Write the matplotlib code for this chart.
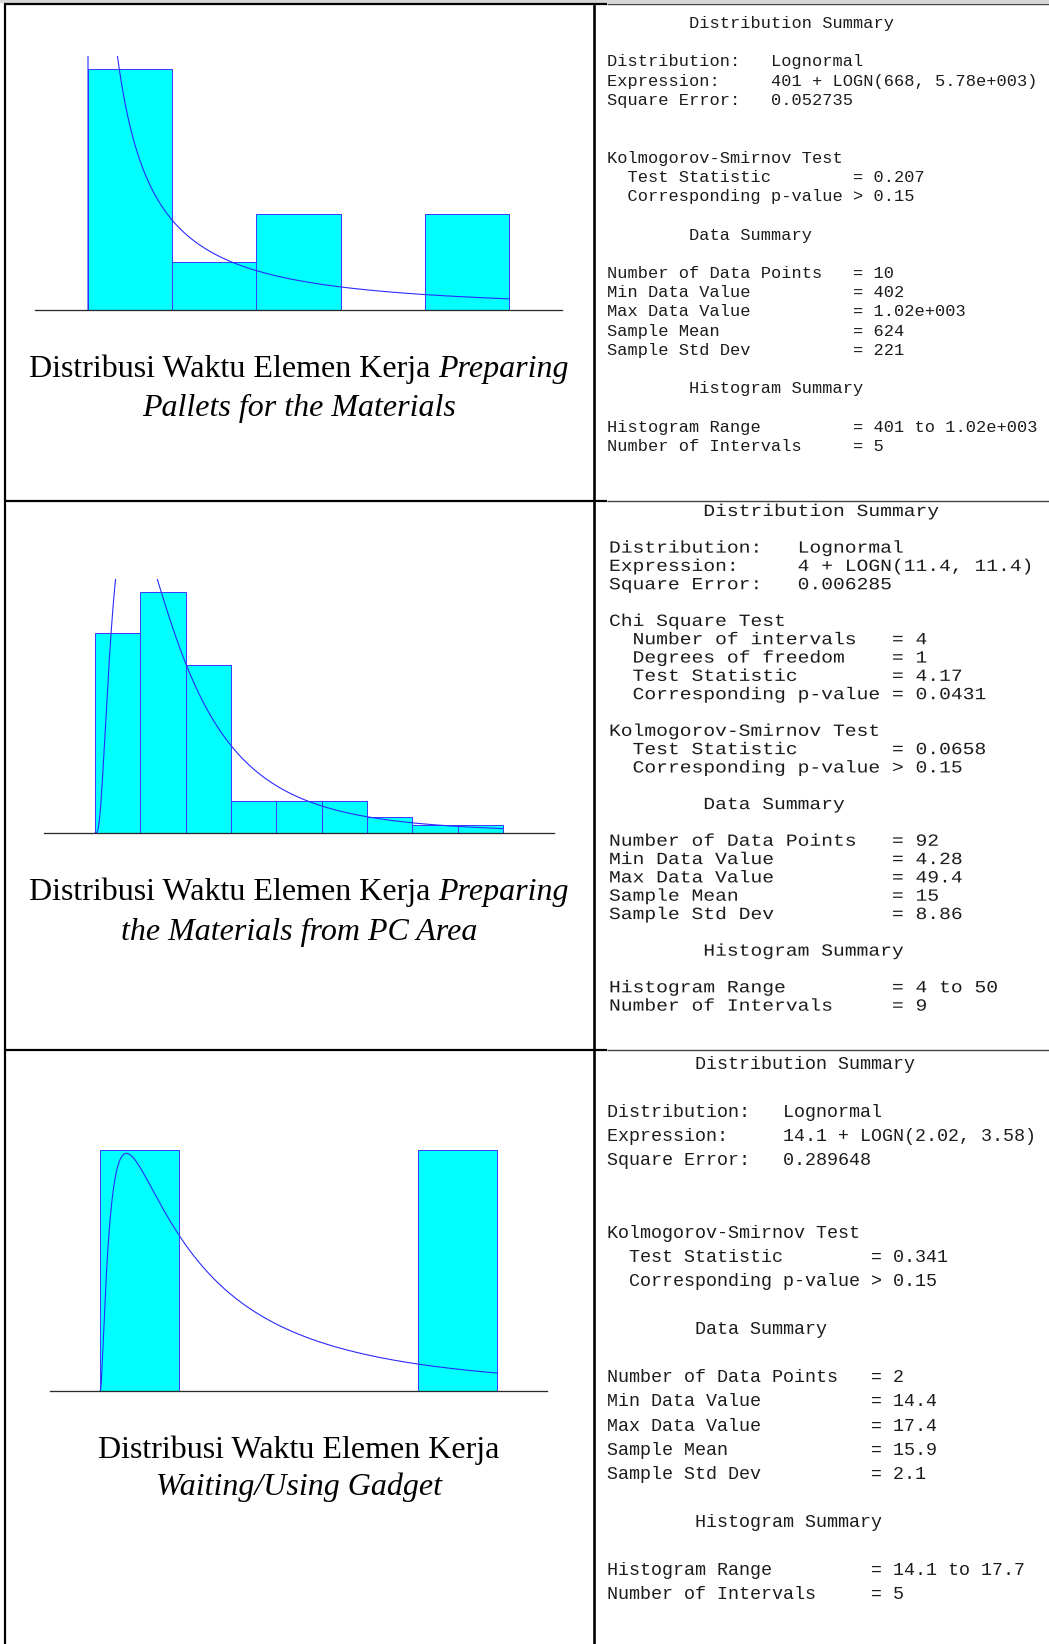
import numpy as np
import matplotlib
matplotlib.use("Agg")
import matplotlib.pyplot as plt
from matplotlib.patheffects import AbstractPathEffect
from matplotlib.transforms import Affine2D

W, H, DPI = 1049, 1644, 100
PX = 72.0 / DPI  # points per pixel

SERIF = ["Liberation Serif", "DejaVu Serif"]
MONO = ["Liberation Mono", "DejaVu Sans Mono"]

# ---------------------------------------------------------------- data
# interval counts, histogram range, fitted lognormal (offset, mean, std dev)
pallets_counts = [5, 1, 2, 0, 2]
pallets_range = (401.0, 1020.0)
pallets_fit = (401.0, 668.0, 5780.0)

pc_area_counts = [25, 30, 21, 4, 4, 4, 2, 1, 1]
pc_area_range = (4.0, 50.0)
pc_area_fit = (4.0, 11.4, 11.4)

gadget_counts = [1, 0, 0, 0, 1]
gadget_range = (14.1, 17.7)
gadget_fit = (14.1, 2.02, 3.58)

pallets_caption = [[("Distribusi Waktu Elemen Kerja", "normal"), ("Preparing", "italic")],
                   [("Pallets for the Materials", "italic")]]
pc_area_caption = [[("Distribusi Waktu Elemen Kerja", "normal"), ("Preparing", "italic")],
                   [("the Materials from PC Area", "italic")]]
gadget_caption = [[("Distribusi Waktu Elemen Kerja", "normal")],
                  [("Waiting/Using Gadget", "italic")]]

pallets_summary = [
    "        Distribution Summary",
    "",
    "Distribution:   Lognormal",
    "Expression:     401 + LOGN(668, 5.78e+003)",
    "Square Error:   0.052735",
    "",
    "",
    "Kolmogorov-Smirnov Test",
    "  Test Statistic        = 0.207",
    "  Corresponding p-value > 0.15",
    "",
    "        Data Summary",
    "",
    "Number of Data Points   = 10",
    "Min Data Value          = 402",
    "Max Data Value          = 1.02e+003",
    "Sample Mean             = 624",
    "Sample Std Dev          = 221",
    "",
    "        Histogram Summary",
    "",
    "Histogram Range         = 401 to 1.02e+003",
    "Number of Intervals     = 5",
]

pc_area_summary = [
    "        Distribution Summary",
    "",
    "Distribution:   Lognormal",
    "Expression:     4 + LOGN(11.4, 11.4)",
    "Square Error:   0.006285",
    "",
    "Chi Square Test",
    "  Number of intervals   = 4",
    "  Degrees of freedom    = 1",
    "  Test Statistic        = 4.17",
    "  Corresponding p-value = 0.0431",
    "",
    "Kolmogorov-Smirnov Test",
    "  Test Statistic        = 0.0658",
    "  Corresponding p-value > 0.15",
    "",
    "        Data Summary",
    "",
    "Number of Data Points   = 92",
    "Min Data Value          = 4.28",
    "Max Data Value          = 49.4",
    "Sample Mean             = 15",
    "Sample Std Dev          = 8.86",
    "",
    "        Histogram Summary",
    "",
    "Histogram Range         = 4 to 50",
    "Number of Intervals     = 9",
]

gadget_summary = [
    "        Distribution Summary",
    "",
    "Distribution:   Lognormal",
    "Expression:     14.1 + LOGN(2.02, 3.58)",
    "Square Error:   0.289648",
    "",
    "",
    "Kolmogorov-Smirnov Test",
    "  Test Statistic        = 0.341",
    "  Corresponding p-value > 0.15",
    "",
    "        Data Summary",
    "",
    "Number of Data Points   = 2",
    "Min Data Value          = 14.4",
    "Max Data Value          = 17.4",
    "Sample Mean             = 15.9",
    "Sample Std Dev          = 2.1",
    "",
    "        Histogram Summary",
    "",
    "Histogram Range         = 14.1 to 17.7",
    "Number of Intervals     = 5",
]

# ---------------------------------------------------------------- layout (pixels)
layouts = [
    dict(x0=88, x1=509, base=310, top=56, cap=(377, 416),
         tx=607, ty=28, step=19.23, fs=12.24, sx=1.0),
    dict(x0=95, x1=503, base=833, top=579, cap=(900, 940),
         tx=609, ty=516, step=18.32, fs=12.3, sx=1.15),
    dict(x0=100, x1=497, base=1391, top=1137, cap=(1458, 1495),
         tx=607, ty=1069, step=24.1, fs=13.27, sx=1.0),
]
CAPTION_CX = 299
CAPTION_SIZE = 23.0


class StretchX(AbstractPathEffect):
    """Widen glyph outlines horizontally about a fixed display x."""

    def __init__(self, sx, x0):
        super().__init__()
        self.sx = sx
        self.x0 = x0

    def draw_path(self, renderer, gc, tpath, affine, rgbFace=None):
        tr = affine + Affine2D().translate(-self.x0, 0).scale(self.sx, 1.0).translate(self.x0, 0)
        renderer.draw_path(gc, tpath, tr, rgbFace)


fig = plt.figure(figsize=(W / DPI, H / DPI), dpi=DPI)
fig.patch.set_facecolor("white")

# table frame drawn in pixel coordinates
bg = fig.add_axes([0, 0, 1, 1], zorder=0)
bg.set_xlim(0, W)
bg.set_ylim(H, 0)
bg.axis("off")
bg.add_patch(plt.Rectangle((0, 0), W, 3, color="#d6d6d6", lw=0))


def hline(y, x0, x1, color, px):
    bg.plot([x0, x1], [y, y], color=color, lw=px * PX, solid_capstyle="butt")


def vline(x, y0, y1, color, px):
    bg.plot([x, x], [y0, y1], color=color, lw=px * PX, solid_capstyle="butt")


for y in (4, 501, 1050):
    hline(y, 4, 607, "black", 2.2)
    hline(y, 607, W, "#444444", 1.4)
vline(5, 3, H, "black", 2.2)
vline(593.5, 3, H, "black", 2.6)


def lognormal_pdf(t, mean, sd):
    s2 = np.log(1.0 + (sd / mean) ** 2)
    mu = np.log(mean) - s2 / 2.0
    out = np.zeros_like(t)
    pos = t > 0
    tp = t[pos]
    out[pos] = np.exp(-(np.log(tp) - mu) ** 2 / (2 * s2)) / (tp * np.sqrt(2 * np.pi * s2))
    return out


def draw_hist(counts, rng, fit, lay):
    lo, hi = rng
    n = len(counts)
    edges = np.linspace(lo, hi, n + 1)
    bw = edges[1] - edges[0]
    rel = np.asarray(counts, float) / np.sum(counts)
    span = hi - lo
    pad = 0.125 * span
    ppu = (lay["x1"] - lay["x0"]) / span
    left = lay["x0"] - pad * ppu
    right = lay["x1"] + pad * ppu
    ax = fig.add_axes([left / W, 1 - lay["base"] / H,
                       (right - left) / W, (lay["base"] - lay["top"]) / H], zorder=2)
    ax.set_xlim(lo - pad, hi + pad)
    ax.set_ylim(0, rel.max() * 1.056)
    ax.patch.set_alpha(0)
    ax.set_xticks([])
    ax.set_yticks([])
    for s in ("top", "left", "right"):
        ax.spines[s].set_visible(False)
    ax.spines["bottom"].set_color("#2a2a2a")
    ax.spines["bottom"].set_linewidth(1.3 * PX)
    ax.bar(edges[:-1], rel, width=bw, align="edge", color="#00ffff",
           edgecolor="#3c3cff", linewidth=1.0 * PX)
    off, mean, sd = fit
    frac = np.concatenate([np.geomspace(1e-7, 1e-2, 400), np.linspace(1e-2, 1.0, 3000)])
    x = np.concatenate([[lo], lo + span * frac])
    y = lognormal_pdf(x - off, mean, sd) * bw
    ax.plot(x, y, color="#2a2aff", lw=1.1 * PX)
    return ax


renderer = fig.canvas.get_renderer()


def draw_caption(lines, baselines):
    for parts, yb in zip(lines, baselines):
        texts = [fig.text(0, 1 - yb / H, s, family=SERIF, style=st, size=CAPTION_SIZE,
                          va="baseline", ha="left", color="black") for s, st in parts]
        widths = [t.get_window_extent(renderer).width for t in texts]
        gap = 0.25 * CAPTION_SIZE / PX
        total = sum(widths) + gap * (len(texts) - 1)
        x = CAPTION_CX - total / 2
        for t, w in zip(texts, widths):
            t.set_x(x / W)
            x += w + gap


def draw_summary(lines, lay):
    effects = [StretchX(lay["sx"], lay["tx"])] if lay["sx"] != 1.0 else None
    for i, s in enumerate(lines):
        if not s:
            continue
        yb = lay["ty"] + i * lay["step"]
        fig.text(lay["tx"] / W, 1 - yb / H, s, family=MONO, size=lay["fs"],
                 va="baseline", ha="left", color="#1c1c1c", path_effects=effects)


panels = [
    (pallets_counts, pallets_range, pallets_fit, pallets_caption, pallets_summary),
    (pc_area_counts, pc_area_range, pc_area_fit, pc_area_caption, pc_area_summary),
    (gadget_counts, gadget_range, gadget_fit, gadget_caption, gadget_summary),
]

for (counts, rng, fit, cap, summ), lay in zip(panels, layouts):
    draw_hist(counts, rng, fit, lay)
    draw_caption(cap, lay["cap"])
    draw_summary(summ, lay)

fig.savefig("out.png", dpi=DPI, facecolor="white")
